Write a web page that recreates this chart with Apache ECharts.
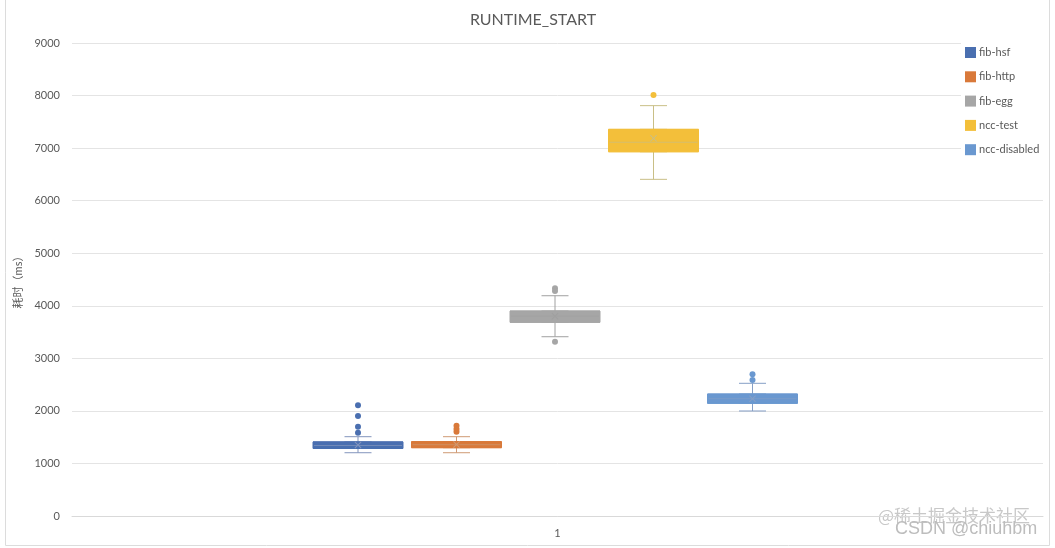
<!DOCTYPE html>
<html>
<head>
<meta charset="utf-8">
<script src="https://cdn.jsdelivr.net/npm/echarts@6/dist/echarts.min.js"></script>
<style>
html,body{margin:0;padding:0;background:#fff;}
#chart{width:1055px;height:548px;}
</style>
</head>
<body>
<div id="chart"></div>
<script>
// ---- data ----
const title = 'RUNTIME_START';
const categories = ['1'];
const seriesNames = ['fib-hsf', 'fib-http', 'fib-egg', 'ncc-test', 'ncc-disabled'];
// [min, Q1, median, Q3, max]
const hsfBox = [1204, 1285, 1340, 1410, 1509];
const httpBox = [1204, 1300, 1355, 1415, 1509];
const eggBox = [3411, 3685, 3800, 3900, 4191];
const testBox = [6406, 6931, 7110, 7357, 7808];
const disabledBox = [1998, 2144, 2230, 2321, 2525];
const hsfOutliers = [2106, 1903, 1700, 1585];
const httpOutliers = [1718, 1655, 1604];
const eggOutliers = [4332, 4280, 3316];
const testOutliers = [8009];
const disabledOutliers = [2696, 2588];
const means = [1350, 1360, 3800, 7186, 2230];
const yTicks = [0, 1000, 2000, 3000, 4000, 5000, 6000, 7000, 8000, 9000];

const boxes = [hsfBox, httpBox, eggBox, testBox, disabledBox];
const outliers = [hsfOutliers, httpOutliers, eggOutliers, testOutliers, disabledOutliers];
const fills = ['#4a6fb0', '#d9793a', '#a6a6a6', '#f3bf3a', '#6a98d0'];
const strokes = ['#8395bd', '#cf9a74', '#a0a0a0', '#c9bf86', '#859fc6'];
const centers = [358, 456.5, 555, 653.5, 752.5];
const slot = 98.6;
const font = 'Lato, "Noto Sans CJK SC", sans-serif';

const chart = echarts.init(document.getElementById('chart'));
const grids = [{left: 72, right: 12, top: 43, bottom: 32}];
const xAxes = [{
  type: 'category', data: categories, gridIndex: 0,
  axisLine: {show: true, lineStyle: {color: '#d9d9d9'}},
  axisTick: {show: false},
  axisLabel: {color: '#595959', fontSize: 11, fontFamily: font, margin: 12}
}];
const yAxes = [{
  type: 'value', gridIndex: 0, min: yTicks[0], max: yTicks[yTicks.length - 1], interval: 1000,
  name: '耗时（ms）', nameLocation: 'middle', nameGap: 44, nameRotate: 90,
  nameTextStyle: {color: '#595959', fontSize: 11, fontFamily: font},
  axisLine: {show: false}, axisTick: {show: false},
  axisLabel: {color: '#595959', fontSize: 11, fontFamily: font, margin: 12,
    formatter: function (v) { return String(v); }},
  splitLine: {lineStyle: {color: '#e4e4e4'}}
}];
const series = [];
seriesNames.forEach(function (name, i) {
  const g = i + 1;
  const b = boxes[i];
  grids.push({left: centers[i] - slot / 2, width: slot, top: 43, bottom: 32});
  const xw = xAxes.length;
  xAxes.push({type: 'category', data: categories, gridIndex: g, show: false});
  const xb = xAxes.length;
  xAxes.push({type: 'category', data: categories, gridIndex: g, show: false});
  yAxes.push({type: 'value', gridIndex: g, min: 0, max: 9000, show: false, splitLine: {show: false}});
  // whiskers (narrow caps)
  series.push({
    name: name, type: 'boxplot', xAxisIndex: xw, yAxisIndex: g,
    boxWidth: [27, 27],
    itemStyle: {color: 'rgba(0,0,0,0)', borderColor: strokes[i], borderWidth: 1},
    emphasis: {disabled: true},
    data: [b]
  });
  // box (Q1..Q3)
  series.push({
    name: name, type: 'boxplot', xAxisIndex: xb, yAxisIndex: g,
    boxWidth: [90, 90],
    itemStyle: {color: fills[i], borderColor: fills[i], borderWidth: 1},
    emphasis: {disabled: true},
    data: [[b[1], b[1], b[2], b[3], b[3]]]
  });
  // lighter median line
  series.push({
    name: name, type: 'scatter', xAxisIndex: xb, yAxisIndex: g,
    symbol: 'rect', symbolSize: [88, 1],
    itemStyle: {color: strokes[i], opacity: 0.7},
    data: [['1', b[2]]]
  });
  // outliers
  series.push({
    name: name, type: 'scatter', xAxisIndex: xb, yAxisIndex: g,
    symbol: 'circle', symbolSize: 6,
    itemStyle: {color: fills[i], opacity: 1},
    data: outliers[i].map(function (v) { return ['1', v]; })
  });
  // mean marker
  series.push({
    name: name, type: 'scatter', xAxisIndex: xb, yAxisIndex: g,
    symbol: 'path://M0,1L1,0L5,4L9,0L10,1L6,5L10,9L9,10L5,6L1,10L0,9L4,5Z', symbolSize: 7,
    itemStyle: {color: strokes[i], opacity: 1},
    data: [['1', means[i]]]
  });
});

chart.setOption({
  animation: false,
  backgroundColor: '#fff',
  title: {
    text: title, left: 528, top: 7, textAlign: 'center',
    textStyle: {color: '#595959', fontSize: 16, fontWeight: 'normal', fontFamily: font}
  },
  legend: {
    data: seriesNames.map(function (n, i) {
      return {name: n, itemStyle: {color: fills[i], borderWidth: 0, borderColor: fills[i]}};
    }),
    orient: 'vertical', left: 961, top: 43,
    icon: 'rect', itemWidth: 11, itemHeight: 11, itemGap: 13.3,
    textStyle: {color: '#595959', fontSize: 11, fontFamily: font, padding: [0, 0, 0, -2]},
    backgroundColor: '#fff', padding: [4, 4, 4, 4]
  },
  grid: grids, xAxis: xAxes, yAxis: yAxes, series: series,
  graphic: [
    {type: 'rect', shape: {x: 5.5, y: -2, width: 1044, height: 547.5},
     style: {fill: 'none', stroke: '#dcdcdc', lineWidth: 1}, silent: true},
    {type: 'text', left: 878, top: 507, silent: true,
     style: {text: '@稀土掘金技术社区', fill: '#c8c8c8', font: '17px "Noto Sans CJK SC", sans-serif'}},
    {type: 'text', left: 895, top: 520, silent: true,
     style: {text: 'CSDN @chiuhbm', fill: '#bdbdbd', font: '18px "Liberation Sans", sans-serif'}}
  ]
});
</script>
</body>
</html>
